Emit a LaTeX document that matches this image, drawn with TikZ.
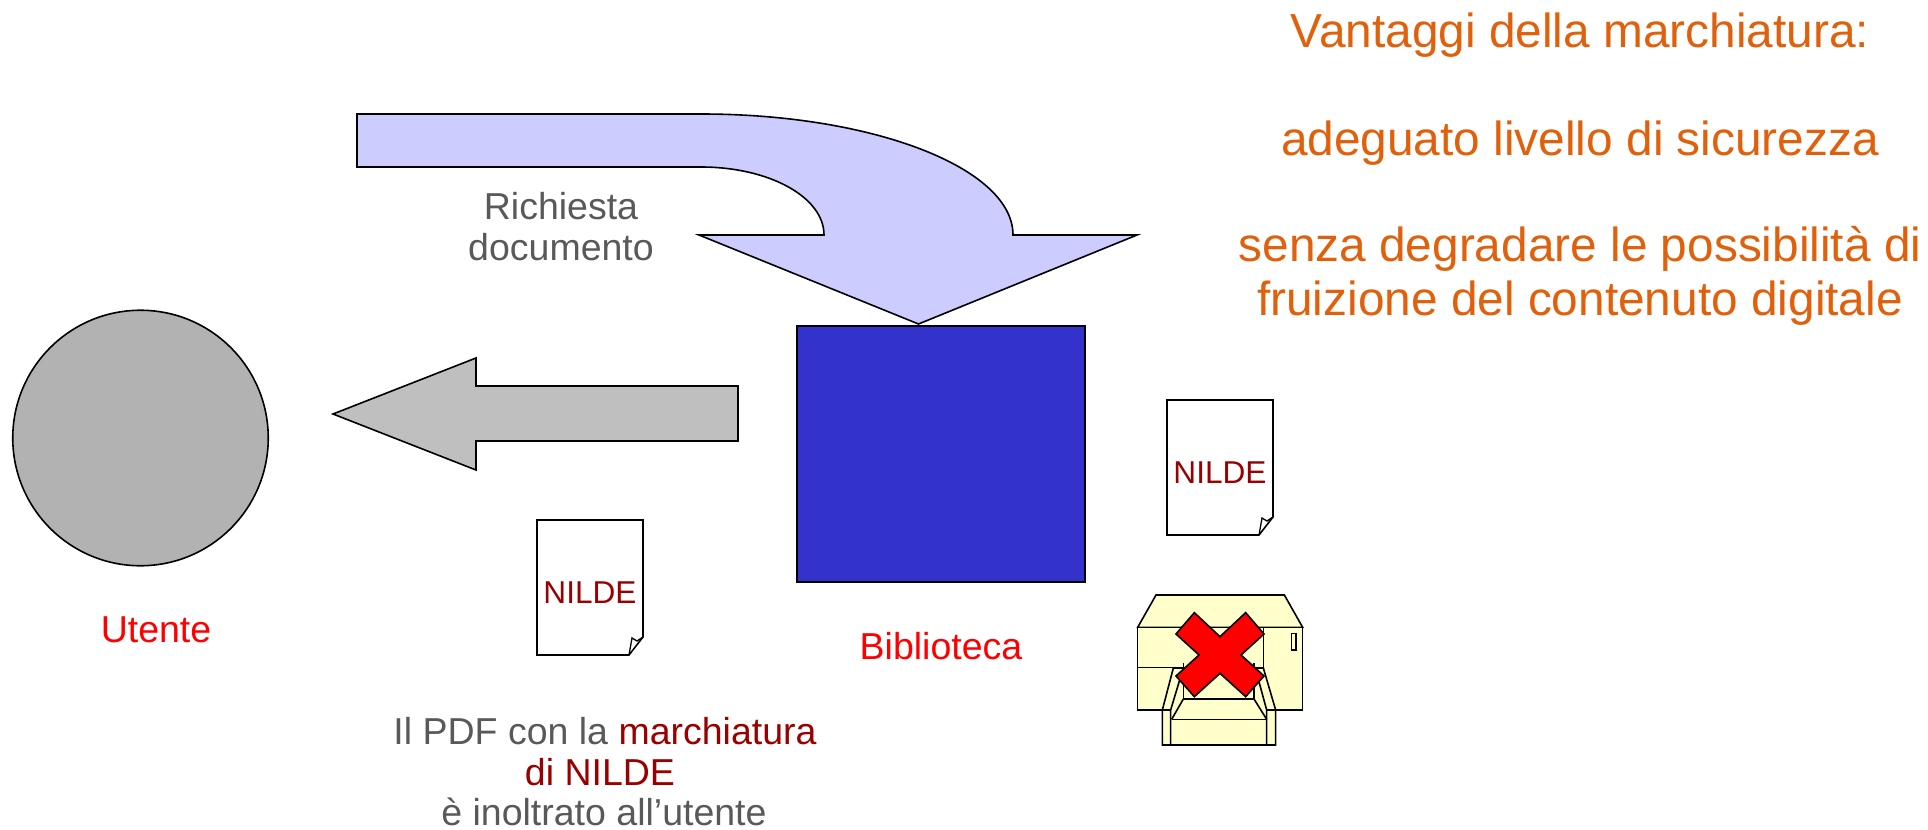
\documentclass[tikz,border=0pt]{standalone}
\usepackage{fontspec}
\setmainfont{Liberation Sans}
\definecolor{orangetxt}{HTML}{E0600C}
\definecolor{greytxt}{HTML}{595959}
\definecolor{darkred}{HTML}{990000}
\definecolor{lilac}{HTML}{CCCCFF}
\definecolor{royal}{HTML}{3333CC}
\definecolor{cream}{HTML}{FFFFCC}
\newcommand{\fsz}[1]{\fontsize{#1}{#1}\selectfont}
\tikzset{
  shapeline/.style={draw=black,line width=1.6pt,line join=miter},
  headline/.style={orangetxt,font=\fsz{47.8},inner sep=0pt,anchor=center},
  greynote/.style={greytxt,font=\fsz{37.5},inner sep=0pt,anchor=center},
  redlabel/.style={red,font=\fsz{37.5},inner sep=0pt,anchor=center},
  doctext/.style={darkred,font=\fsz{31.6},inner sep=0pt,anchor=center},
  prline/.style={draw=black,line width=1.6pt,line join=miter},
}
\begin{document}
\begin{tikzpicture}[x=1pt,y=-1pt]
\path[use as bounding box] (0,0) rectangle (1928,830);
% user
\node[circle,shapeline,fill=black!30,minimum size=255.5pt,inner sep=0pt] (user) at (140.5,438) {};
\node[redlabel] (userlabel) at (156,630) {Utente};
% library
\node[rectangle,shapeline,fill=royal,minimum width=288pt,minimum height=256pt,inner sep=0pt] (library) at (941,454) {};
\node[redlabel] (liblabel) at (941,646) {Biblioteca};
% request arrow
\draw[shapeline,fill=lilac] (357,114) -- (701,114)
  .. controls (873,114) and (1013,168) .. (1013,235)
  -- (1137,235) -- (918.5,324) -- (699,235) -- (824,235)
  .. controls (824,197) and (769,167) .. (701,167)
  -- (357,167) -- cycle;
\node[greynote,align=center] (reqlabel) at (561,226.5) {\fsz{37.5}Richiesta\\[3pt]documento};
% return arrow
\draw[shapeline,fill=black!25] (738,386) -- (476,386) -- (476,358) -- (333,414) -- (476,470) -- (476,441) -- (738,441) -- cycle;
% documents
\begin{scope}[shift={(1167,400)}]
  \draw[shapeline,fill=white] (0,0) -- (106,0) -- (106,117) -- (92,135) -- (0,135) -- cycle;
  \draw[shapeline,line width=1.3pt] (92,135) -- (95,118) -- (100,121) -- (106,117);
  \node[doctext] (doca) at (53,73) {NILDE};
\end{scope}
\begin{scope}[shift={(537,520)}]
  \draw[shapeline,fill=white] (0,0) -- (106,0) -- (106,117) -- (92,135) -- (0,135) -- cycle;
  \draw[shapeline,line width=1.3pt] (92,135) -- (95,118) -- (100,121) -- (106,117);
  \node[doctext] (docb) at (53,73) {NILDE};
\end{scope}
% printer
\begin{scope}[shift={(1100,380)},x=0.33333pt,y=-0.33333pt]
  \draw[prline,fill=cream] (113,742) -- (168,645) -- (553,645) -- (608,742) -- cycle;
  \draw[prline,fill=cream] (113,742) rectangle (608,990);
  \draw[prline] (113,862) -- (490,862);
  \draw[prline] (490,742) -- (490,862);
  \draw[prline] (575,760) rectangle (588,810);
  \draw[prline,fill=cream] (220,864) -- (187,990) -- (187,1095) -- (527,1095) -- (527,990) -- (490,864) -- cycle;
  \draw[prline] (245,880) -- (212,990) -- (212,1095);
  \draw[prline] (470,880) -- (500,990) -- (500,1095);
  \draw[prline] (187,990) -- (212,990);
  \draw[prline] (500,990) -- (527,990);
  \draw[prline] (215,1018) -- (500,1018);
  \draw[prline] (250,850) -- (250,957) -- (462,957) -- (462,850);
  \draw[prline] (250,957) -- (215,1018);
  \draw[prline] (462,957) -- (500,1018);
  \draw[prline,fill=red] (283,698) -- (360,770) -- (437,698) -- (492,762) -- (423,825) -- (492,888) -- (437,950) -- (360,880) -- (283,950) -- (228,888) -- (297,825) -- (228,762) -- cycle;
\end{scope}
% caption
\node[greynote] (cap1) at (605,731) {Il PDF con la \textcolor{darkred}{marchiatura}};
\node[greynote,darkred] (cap2) at (600,772) {di NILDE};
\node[greynote] (cap3) at (604,812) {è inoltrato all’utente};
% advantages
\node[headline] (adv1) at (1580,35) {Vantaggi della marchiatura:};
\node[headline] (adv2) at (1580,143) {adeguato livello di sicurezza};
\node[headline] (adv3) at (1580,249) {senza degradare le possibilità di};
\node[headline] (adv4) at (1580,303) {fruizione del contenuto digitale};
\end{tikzpicture}
\end{document}
